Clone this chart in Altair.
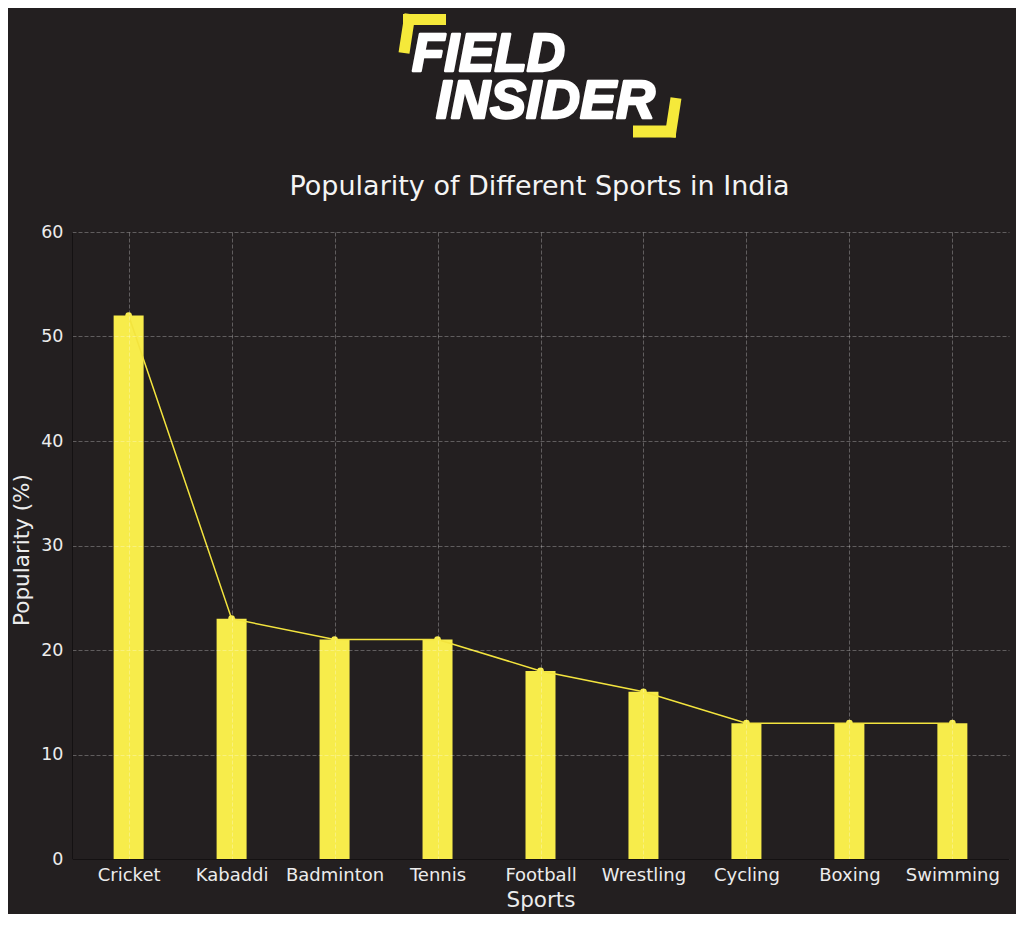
import altair as alt
import pandas as pd

# ---- data ----
sports = ["Cricket", "Kabaddi", "Badminton", "Tennis", "Football",
          "Wrestling", "Cycling", "Boxing", "Swimming"]
popularity = [52, 23, 21, 21, 18, 16, 13, 13, 13]
y_ticks = [0, 10, 20, 30, 40, 50, 60]
title_text = "Popularity of Different Sports in India"
logo_line1 = "FIELD"
logo_line2 = "INSIDER"

df = pd.DataFrame({"Sports": sports, "Popularity": popularity})
one = pd.DataFrame({"k": [0]})

W, H = 937, 627
BG = "#231f20"
YELLOW = "#f7ec4b"
LINE_Y = "#f3e43e"
TXT = "#ececec"
FONT = "DejaVu Sans"

x_enc = alt.X(
    "Sports:N", sort=sports,
    scale=alt.Scale(type="point", padding=0.55),
    axis=alt.Axis(
        title="Sports", labelAngle=0, ticks=False, tickSize=0,
        labelPadding=21, labelBaseline="alphabetic",
        labelFont=FONT, labelFontSize=18, labelColor=TXT,
        titleFont=FONT, titleFontSize=21.5, titleFontWeight="normal",
        titleColor=TXT, titleX=W / 2, titleY=47, titleBaseline="alphabetic",
        titleAlign="center",
        grid=True, gridColor="#ffffff", gridOpacity=0.28, gridDash=[4, 2],
        domainColor="#141112", zindex=1,
    ),
)
y_enc = alt.Y(
    "Popularity:Q",
    scale=alt.Scale(domain=[0, 60], nice=False),
    axis=alt.Axis(
        title="Popularity (%)", values=y_ticks, ticks=False, tickSize=0,
        labelPadding=9, labelFont=FONT, labelFontSize=17.5, labelColor=TXT,
        titleFont=FONT, titleFontSize=21.5, titleFontWeight="normal",
        titleColor=TXT, titleX=-50, titleY=H / 2 + 4, titleAngle=270,
        titleAlign="center", titleBaseline="middle",
        grid=True, gridColor="#ffffff", gridOpacity=0.28, gridDash=[4, 2],
        domainColor="#141112", zindex=1,
    ),
)

bars = alt.Chart(df).mark_bar(size=30, color=YELLOW).encode(x=x_enc, y=y_enc)
line = alt.Chart(df).mark_line(color=LINE_Y, strokeWidth=1.5).encode(x=x_enc, y=y_enc)
pts = alt.Chart(df).mark_point(filled=True, size=45, color=YELLOW, opacity=1).encode(x=x_enc, y=y_enc)

# ---- chart title as text ----
title = alt.Chart(one).mark_text(
    text=title_text, font=FONT, fontSize=27, color="#f4f4f4",
    align="center", baseline="alphabetic").encode(
    x=alt.value(W / 2 - 1), y=alt.value(-37))

# ---- logo (positions relative to plot origin) ----
def bracket(x1, y1, x2, y2, w=11):
    return alt.Chart(one).mark_rule(color="#f5e93a", strokeWidth=w, strokeCap="butt").encode(
        x=alt.value(x1), x2=alt.value(x2), y=alt.value(y1), y2=alt.value(y2))

def logo_text(txt, xx, yy, fs):
    return alt.Chart(one).mark_text(
        text=txt, font="Liberation Sans", fontSize=fs, fontWeight="bold",
        fontStyle="italic", color="#ffffff", stroke="#ffffff", strokeWidth=2.5,
        strokeJoin="round", align="left", baseline="alphabetic").encode(
        x=alt.value(xx), y=alt.value(yy))

logo = [
    bracket(331, -212.5, 374, -212.5),
    bracket(338, -218, 332, -179),
    bracket(561, -100.5, 604, -100.5, 12),
    bracket(604, -134, 598, -95),
    logo_text(logo_line1, 340, -161, 53),
    logo_text(logo_line2, 364, -114, 54),
]

chart = alt.layer(bars, line, pts, title, *logo).properties(
    width=W, height=H,
    autosize=alt.AutoSizeParams(type="none"),
    padding={"left": 64, "top": 224, "right": 7, "bottom": 55},
).configure(background=BG).configure_view(stroke=None)

chart.save("out.html", embed_options={"renderer": "svg", "actions": False})
